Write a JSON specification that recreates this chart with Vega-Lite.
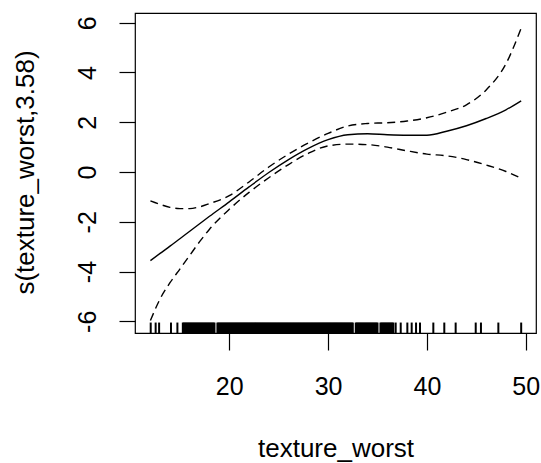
{
  "$schema": "https://vega.github.io/schema/vega-lite/v6.json",
  "autosize": "none",
  "width": 401,
  "height": 320,
  "padding": {"left": 135, "top": 13, "right": 5, "bottom": 130},
  "background": "white",
  "config": {
    "view": {"stroke": "black", "strokeWidth": 1.2},
    "font": "Liberation Sans",
    "axis": {"grid": false, "domain": false, "tickColor": "black", "tickWidth": 1.2, "labelColor": "black", "titleColor": "black", "labelFont": "Liberation Sans", "titleFont": "Liberation Sans", "titleFontWeight": "normal", "labelFontSize": 25, "titleFontSize": 26}
  },
  "datasets": {
    "curve": [
      {"x": 12.02, "fit": -3.56, "hi": -1.16, "lo": -5.97},
      {"x": 13, "fit": -3.27, "hi": -1.3, "lo": -5.1},
      {"x": 14, "fit": -2.98, "hi": -1.42, "lo": -4.45},
      {"x": 15, "fit": -2.68, "hi": -1.47, "lo": -3.9},
      {"x": 16, "fit": -2.38, "hi": -1.47, "lo": -3.35},
      {"x": 17, "fit": -2.08, "hi": -1.4, "lo": -2.8},
      {"x": 18, "fit": -1.78, "hi": -1.27, "lo": -2.3},
      {"x": 20, "fit": -1.2, "hi": -0.95, "lo": -1.5},
      {"x": 22, "fit": -0.6, "hi": -0.4, "lo": -0.82},
      {"x": 24, "fit": -0.02, "hi": 0.2, "lo": -0.23},
      {"x": 26, "fit": 0.5, "hi": 0.72, "lo": 0.3},
      {"x": 28, "fit": 0.95, "hi": 1.17, "lo": 0.75},
      {"x": 30, "fit": 1.3, "hi": 1.55, "lo": 1.05},
      {"x": 32, "fit": 1.5, "hi": 1.85, "lo": 1.12},
      {"x": 34, "fit": 1.54, "hi": 1.95, "lo": 1.1},
      {"x": 36, "fit": 1.5, "hi": 1.98, "lo": 1.0},
      {"x": 38, "fit": 1.48, "hi": 2.05, "lo": 0.85},
      {"x": 40, "fit": 1.48, "hi": 2.18, "lo": 0.72},
      {"x": 42, "fit": 1.64, "hi": 2.4, "lo": 0.65},
      {"x": 44, "fit": 1.86, "hi": 2.7, "lo": 0.5},
      {"x": 46, "fit": 2.15, "hi": 3.3, "lo": 0.28},
      {"x": 48, "fit": 2.5, "hi": 4.35, "lo": 0.02},
      {"x": 49.54, "fit": 2.86, "hi": 5.78, "lo": -0.25}
    ],
    "rug": [
      {"v": 12.05}, {"v": 12.55}, {"v": 12.9}, {"v": 14.1}, {"v": 14.75},
      {"v": 15.3}, {"v": 15.4}, {"v": 15.5}, {"v": 15.6}, {"v": 15.7}, {"v": 15.8}, {"v": 15.9},
      {"v": 16.0}, {"v": 16.1}, {"v": 16.2}, {"v": 16.3}, {"v": 16.4}, {"v": 16.5}, {"v": 16.6}, {"v": 16.7}, {"v": 16.8}, {"v": 16.9},
      {"v": 17.0}, {"v": 17.1}, {"v": 17.2}, {"v": 17.3}, {"v": 17.4}, {"v": 17.5}, {"v": 17.6}, {"v": 17.7}, {"v": 17.8}, {"v": 17.9},
      {"v": 18.0}, {"v": 18.1}, {"v": 18.2}, {"v": 18.3}, {"v": 18.4}, {"v": 18.5}, {"v": 18.8}, {"v": 18.9},
      {"v": 19.0}, {"v": 19.1}, {"v": 19.2}, {"v": 19.3}, {"v": 19.4}, {"v": 19.5}, {"v": 19.6}, {"v": 19.7}, {"v": 19.8}, {"v": 19.9},
      {"v": 20.0}, {"v": 20.1}, {"v": 20.2}, {"v": 20.3}, {"v": 20.4}, {"v": 20.5}, {"v": 20.6}, {"v": 20.7}, {"v": 20.8}, {"v": 20.9},
      {"v": 21.0}, {"v": 21.1}, {"v": 21.2}, {"v": 21.3}, {"v": 21.4}, {"v": 21.5}, {"v": 21.6}, {"v": 21.7}, {"v": 21.8}, {"v": 21.9},
      {"v": 22.0}, {"v": 22.1}, {"v": 22.2}, {"v": 22.3}, {"v": 22.4}, {"v": 22.5}, {"v": 22.6}, {"v": 22.7}, {"v": 22.8}, {"v": 22.9},
      {"v": 23.0}, {"v": 23.1}, {"v": 23.2}, {"v": 23.3}, {"v": 23.4}, {"v": 23.5}, {"v": 23.6}, {"v": 23.7}, {"v": 23.8}, {"v": 23.9},
      {"v": 24.0}, {"v": 24.1}, {"v": 24.2}, {"v": 24.3}, {"v": 24.4}, {"v": 24.5}, {"v": 24.6}, {"v": 24.7}, {"v": 24.8}, {"v": 24.9},
      {"v": 25.0}, {"v": 25.1}, {"v": 25.2}, {"v": 25.3}, {"v": 25.4}, {"v": 25.5}, {"v": 25.6}, {"v": 25.7}, {"v": 25.8}, {"v": 25.9},
      {"v": 26.0}, {"v": 26.1}, {"v": 26.2}, {"v": 26.3}, {"v": 26.4}, {"v": 26.5}, {"v": 26.6}, {"v": 26.7}, {"v": 26.8}, {"v": 26.9},
      {"v": 27.0}, {"v": 27.1}, {"v": 27.2}, {"v": 27.3}, {"v": 27.4}, {"v": 27.5}, {"v": 27.6}, {"v": 27.7}, {"v": 27.8}, {"v": 27.9},
      {"v": 28.0}, {"v": 28.1}, {"v": 28.2}, {"v": 28.3}, {"v": 28.4}, {"v": 28.5}, {"v": 28.6}, {"v": 28.7}, {"v": 28.8}, {"v": 28.9},
      {"v": 29.0}, {"v": 29.1}, {"v": 29.2}, {"v": 29.3}, {"v": 29.4}, {"v": 29.5}, {"v": 29.6}, {"v": 29.7}, {"v": 29.8}, {"v": 29.9},
      {"v": 30.0}, {"v": 30.1}, {"v": 30.2}, {"v": 30.3}, {"v": 30.4}, {"v": 30.5}, {"v": 30.6}, {"v": 30.7}, {"v": 30.8}, {"v": 30.9},
      {"v": 31.0}, {"v": 31.1}, {"v": 31.2}, {"v": 31.3}, {"v": 31.4}, {"v": 31.5}, {"v": 31.6}, {"v": 31.7}, {"v": 31.8}, {"v": 31.9},
      {"v": 32.0}, {"v": 32.1}, {"v": 32.2}, {"v": 32.3}, {"v": 32.4}, {"v": 32.5}, {"v": 32.8}, {"v": 32.9},
      {"v": 33.0}, {"v": 33.1}, {"v": 33.2}, {"v": 33.3}, {"v": 33.4}, {"v": 33.5}, {"v": 33.6}, {"v": 33.7}, {"v": 33.8}, {"v": 33.9},
      {"v": 34.0}, {"v": 34.1}, {"v": 34.2}, {"v": 34.3}, {"v": 34.4}, {"v": 34.5}, {"v": 34.6}, {"v": 34.7}, {"v": 34.8}, {"v": 34.9},
      {"v": 35.0}, {"v": 35.3}, {"v": 35.4}, {"v": 35.5}, {"v": 35.6}, {"v": 35.7}, {"v": 35.8}, {"v": 35.9},
      {"v": 36.0}, {"v": 36.1}, {"v": 36.2}, {"v": 36.3}, {"v": 36.4}, {"v": 36.5}, {"v": 36.6},
      {"v": 36.84}, {"v": 37.35}, {"v": 38.02}, {"v": 38.46}, {"v": 38.9}, {"v": 39.3}, {"v": 40.65}, {"v": 41.76}, {"v": 42.91}, {"v": 44.94}, {"v": 45.47}, {"v": 47.23}, {"v": 49.54}
    ]
  },
  "encoding": {
    "x": {"type": "quantitative", "scale": {"domain": [10.46, 51.04], "nice": false, "zero": false},
      "axis": {"values": [20, 30, 40, 50], "tickSize": 17, "labelPadding": 44, "labelBaseline": "alphabetic", "title": "texture_worst", "titleY": 123, "titleBaseline": "alphabetic"}},
    "y": {"type": "quantitative", "scale": {"domain": [-6.47, 6.39], "nice": false, "zero": false},
      "axis": {"values": [-6, -4, -2, 0, 2, 4, 6], "labelExpr": "datum.value", "tickSize": 16, "labelAngle": -90, "labelAlign": "center", "labelBaseline": "alphabetic", "labelPadding": 24, "title": "s(texture_worst,3.58)", "titleAngle": -90, "titleAlign": "center", "titleBaseline": "alphabetic", "titleX": -102, "titleY": 159}}
  },
  "layer": [
    {"data": {"name": "curve"}, "mark": {"type": "line", "color": "black", "strokeWidth": 1.4, "interpolate": "monotone"},
      "encoding": {"x": {"field": "x"}, "y": {"field": "fit"}}},
    {"data": {"name": "curve"}, "mark": {"type": "line", "color": "black", "strokeWidth": 1.4, "strokeDash": [8, 5], "interpolate": "monotone"},
      "encoding": {"x": {"field": "x"}, "y": {"field": "hi"}}},
    {"data": {"name": "curve"}, "mark": {"type": "line", "color": "black", "strokeWidth": 1.4, "strokeDash": [8, 5], "interpolate": "monotone"},
      "encoding": {"x": {"field": "x"}, "y": {"field": "lo"}}},
    {"data": {"name": "rug"}, "mark": {"type": "rule", "color": "black", "strokeWidth": 2},
      "encoding": {"x": {"field": "v"}, "y": {"datum": -6.47}, "y2": {"datum": -6.05}}}
  ]
}
